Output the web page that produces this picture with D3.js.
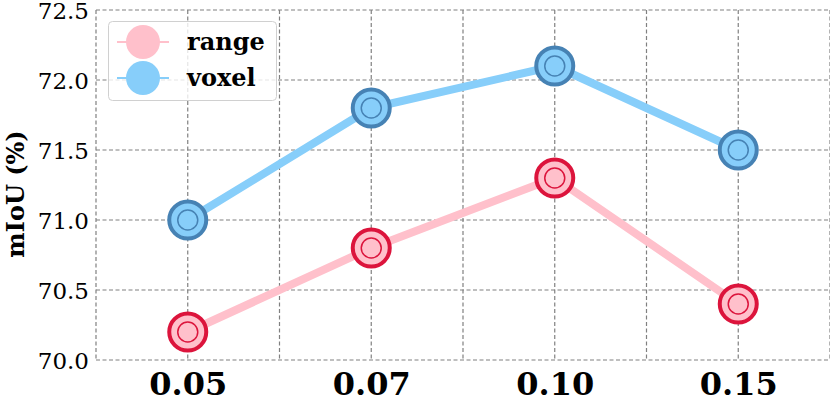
<!DOCTYPE html>
<html><head><meta charset="utf-8">
<script src="https://cdn.jsdelivr.net/npm/d3@7"></script>
<style>body{margin:0;background:#fff}svg{display:block}</style>
</head><body>
<svg id="c" width="830" height="404"></svg>
<script>
const categories = ["0.05", "0.07", "0.10", "0.15"];
const rangeValues = [70.2, 70.8, 71.3, 70.4];
const voxelValues = [71.0, 71.8, 72.1, 71.5];
const yTicks = [70.0, 70.5, 71.0, 71.5, 72.0, 72.5];
const seriesNames = ["range", "voxel"];

const series = [
  {name: seriesNames[0], values: rangeValues, line: "#FFC0CB", fill: "#FFC0CB", edge: "#DC143C"},
  {name: seriesNames[1], values: voxelValues, line: "#87CEFA", fill: "#87CEFA", edge: "#4682B4"}
];

const svg = d3.select("#c");
const L = 96, R = 830, T = 10, B = 360;
const x = d3.scaleLinear().domain([-0.5, categories.length - 0.5]).range([L, R]);
const y = d3.scaleLinear().domain([70.0, 72.5]).range([B, T]);
const serif = "'DejaVu Serif', serif";

// grid
const g = svg.append("g");
const vx = d3.range(-0.5, categories.length, 0.5);
g.selectAll("line.v").data(vx).join("line")
  .attr("x1", d => x(d)).attr("x2", d => x(d)).attr("y1", T).attr("y2", B)
  .attr("stroke", "#808080").attr("stroke-width", 1.2).attr("stroke-dasharray", "4,2.5");
g.selectAll("line.h").data(yTicks).join("line")
  .attr("x1", L).attr("x2", R).attr("y1", d => y(d)).attr("y2", d => y(d))
  .attr("stroke", "#808080").attr("stroke-width", 1.2).attr("stroke-dasharray", "4,2.5");

// y axis ticks
const yAxis = d3.axisLeft(y).tickValues(yTicks).tickFormat(d3.format(".1f")).tickSize(0).tickPadding(7);
const ya = svg.append("g").attr("transform", `translate(${L},0)`).call(yAxis)
  .attr("font-family", serif);
ya.select(".domain").remove();
ya.selectAll("text").style("font-family", serif).attr("font-size", 23).attr("fill", "#000").attr("dy", "0.36em");

// x axis ticks
const xAxis = d3.axisBottom(x).tickValues(d3.range(categories.length)).tickFormat(i => categories[i]).tickSize(0).tickPadding(10);
const xa = svg.append("g").attr("transform", `translate(0,${B})`).call(xAxis)
  .attr("font-family", serif);
xa.select(".domain").remove();
xa.selectAll("text").style("font-family", serif).attr("font-size", 32).attr("font-weight", "bold").attr("fill", "#000").attr("dy", "0.78em");

// y label
svg.append("text").attr("transform", `translate(24,${(T+B)/2+9}) rotate(-90)`)
  .attr("text-anchor", "middle").style("font-family", serif).attr("font-size", 24).attr("font-weight", "bold")
  .text("mIoU (%)");

// series
const line = d3.line().x((d, i) => x(i)).y(d => y(d));
series.forEach(s => {
  svg.append("path").attr("d", line(s.values)).attr("fill", "none")
    .attr("stroke", s.line).attr("stroke-width", 8).attr("stroke-linejoin", "round");
  const pts = svg.append("g");
  pts.selectAll("circle.o").data(s.values).join("circle")
    .attr("cx", (d, i) => x(i)).attr("cy", d => y(d)).attr("r", 18.5)
    .attr("fill", s.fill).attr("stroke", s.edge).attr("stroke-width", 4);
  pts.selectAll("circle.i").data(s.values).join("circle")
    .attr("cx", (d, i) => x(i)).attr("cy", d => y(d)).attr("r", 10)
    .attr("fill", "none").attr("stroke", s.edge).attr("stroke-width", 1.5);
});

// legend
const lg = svg.append("g");
lg.append("rect").attr("x", 108.5).attr("y", 21.5).attr("width", 168).attr("height", 79).attr("rx", 4)
  .attr("fill", "#fff").attr("fill-opacity", 0.8).attr("stroke", "#d0d0d0").attr("stroke-width", 1);
series.forEach((s, k) => {
  const cy = 42 + k * 36;
  lg.append("line").attr("x1", 117).attr("x2", 169).attr("y1", cy).attr("y2", cy)
    .attr("stroke", s.line).attr("stroke-width", 2);
  lg.append("circle").attr("cx", 143).attr("cy", cy).attr("r", 17).attr("fill", s.fill);
  lg.append("text").attr("x", 187).attr("y", cy).attr("dy", "0.33em")
    .style("font-family", serif).attr("font-size", 24).attr("font-weight", "bold").text(s.name);
});
</script>
</body></html>
